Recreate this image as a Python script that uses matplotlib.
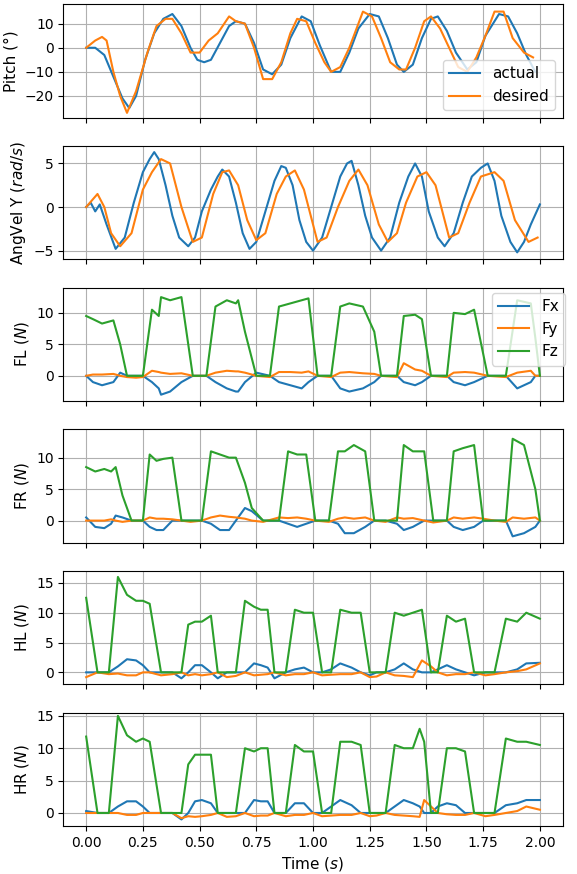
import numpy as np
import matplotlib.pyplot as plt

# pitch (deg)
pitch_act_t = [0, 0.04, 0.08, 0.12, 0.16, 0.19, 0.22, 0.26, 0.30, 0.34, 0.38, 0.42, 0.46, 0.49, 0.52, 0.55, 0.59, 0.63, 0.66, 0.70, 0.74, 0.78, 0.82, 0.86, 0.90, 0.95, 0.99, 1.03, 1.08, 1.12, 1.16, 1.20, 1.25, 1.29, 1.33, 1.37, 1.40, 1.44, 1.48, 1.52, 1.55, 1.59, 1.63, 1.68, 1.72, 1.76, 1.82, 1.86, 1.90, 1.94, 1.98]
pitch_act = [0, 0, -3, -12, -21, -25, -20, -5, 6, 12, 14, 9, 0, -5, -6, -5, 2, 9, 11, 10, 2, -9, -11, -7, 4, 13, 11, 1, -10, -10, -2, 8, 14, 13, 4, -7, -10, -7, 4, 12, 13, 7, -2, -9, -6, 5, 14, 13, 6, -3, -10]
pitch_des_t = [0, 0.04, 0.07, 0.09, 0.12, 0.15, 0.18, 0.22, 0.27, 0.31, 0.35, 0.38, 0.42, 0.46, 0.50, 0.54, 0.58, 0.63, 0.66, 0.70, 0.74, 0.78, 0.82, 0.86, 0.90, 0.93, 0.97, 1.01, 1.05, 1.08, 1.12, 1.16, 1.22, 1.26, 1.30, 1.34, 1.38, 1.41, 1.45, 1.49, 1.52, 1.56, 1.60, 1.64, 1.68, 1.72, 1.76, 1.80, 1.84, 1.88, 1.93, 1.97]
pitch_des = [0, 3, 4.5, 3, -10, -20, -27, -18, -2, 9, 12, 12, 6, -2, -2, 3, 6, 13, 11, 10, 0, -13, -13, -6, 6, 12, 11, 2, -6, -10, -8, 0, 15, 13, 4, -6, -9, -9, 0, 11, 13, 8, 0, -8, -10, -4, 5, 15, 15, 4, -2, -4]

# angular velocity (rad/s)
av_act_t = [0, 0.02, 0.04, 0.06, 0.09, 0.13, 0.17, 0.21, 0.25, 0.28, 0.30, 0.32, 0.35, 0.38, 0.41, 0.45, 0.48, 0.51, 0.55, 0.58, 0.60, 0.63, 0.66, 0.69, 0.72, 0.75, 0.79, 0.83, 0.86, 0.88, 0.91, 0.94, 0.97, 1.00, 1.04, 1.08, 1.12, 1.15, 1.17, 1.20, 1.23, 1.26, 1.30, 1.34, 1.38, 1.42, 1.45, 1.48, 1.51, 1.55, 1.58, 1.62, 1.66, 1.70, 1.74, 1.77, 1.80, 1.83, 1.87, 1.90, 1.93, 1.96, 2.0]
av_act = [0, 0.5, -0.5, 0.3, -2, -4.8, -3.5, 0.5, 4, 5.5, 6.3, 5.5, 2.5, -1, -3.5, -4.5, -3.5, -0.5, 2, 3.5, 4.3, 3.5, 0.5, -3, -4.8, -4, -0.5, 3, 4.7, 4.5, 2.5, -1.5, -4, -5, -3.5, 0, 3.5, 5.0, 5.3, 2.5, -1, -3.5, -5, -3.5, 0.5, 3.5, 5.0, 3.5, -0.5, -3.5, -4.5, -3, 0.5, 3.5, 4.5, 5.0, 3, -1, -4, -5.2, -4, -2, 0.3]
av_des_t = [0, 0.05, 0.08, 0.11, 0.15, 0.20, 0.25, 0.29, 0.33, 0.37, 0.42, 0.47, 0.51, 0.56, 0.60, 0.63, 0.67, 0.71, 0.75, 0.79, 0.84, 0.88, 0.92, 0.96, 1.02, 1.06, 1.11, 1.16, 1.20, 1.24, 1.29, 1.33, 1.37, 1.41, 1.46, 1.50, 1.54, 1.60, 1.64, 1.69, 1.74, 1.80, 1.84, 1.89, 1.95, 1.99]
av_des = [0, 1.5, 0, -3, -4.5, -3, 2, 4, 5.5, 5, 0, -4, -3.5, 1.5, 4, 4.2, 2.5, -1.5, -3.8, -3, 1.5, 3.5, 4.2, 2, -4, -3.5, 0, 3, 4.3, 2.5, -2, -4, -3, 0.5, 3.5, 4, 2.5, -3.5, -3, 0.5, 3.5, 4, 3, -1.5, -4, -3.5]

# foot forces: (t, Fx, Fy, Fz)
fl_t = [0, 0.03, 0.07, 0.12, 0.15, 0.18, 0.22, 0.25, 0.29, 0.32, 0.33, 0.37, 0.42, 0.47, 0.53, 0.57, 0.62, 0.66, 0.67, 0.70, 0.75, 0.81, 0.85, 0.90, 0.95, 0.98, 1.02, 1.08, 1.12, 1.16, 1.22, 1.27, 1.30, 1.37, 1.40, 1.45, 1.48, 1.52, 1.59, 1.62, 1.67, 1.71, 1.77, 1.85, 1.90, 1.96, 1.98, 2.0]
fl_fx = [0, -1, -1.5, -1, 0.5, 0, 0, 0, -1, -2, -3, -2.5, -1, 0, 0, -1, -2, -2.5, -2.5, -1, 0.5, 0, -1, -1.5, -2, -1, 0, 0, -2, -2.5, -2, -1, 0, 0, -1, -1.5, -1, 0, 0, -1, -1.5, -1, 0, 0, -2, -1, 0, 0]
fl_fy = [0, 0.2, 0.2, 0.3, 0, -0.2, -0.3, -0.2, 0.8, 0.6, 0.5, 0.3, 0.4, 0, 0, 0.5, 0.8, 0.7, 0.7, 0.5, 0, -0.2, 0.6, 0.6, 0.5, 0.7, 0, -0.2, 0.5, 0.6, 0.4, 0.3, 0, -0.2, 2, 1, 0.8, 0, -0.2, 0.5, 0.6, 0.5, 0, -0.2, 0.5, 0.8, 0, 0]
fl_fz = [9.5, 9, 8.3, 8.8, 5, 0, 0, 0, 10.5, 9.5, 12.5, 12, 12.5, 0, 0, 11, 12, 11.5, 12, 7, 0, 0, 11, 11.5, 12, 12.3, 0, 0, 11, 11.5, 11, 7, 0, 0, 9.5, 9.7, 9, 0, 0, 10, 9.8, 10.5, 0, 0, 12, 11.5, 6, 0]

fr_t = [0, 0.04, 0.08, 0.11, 0.13, 0.16, 0.20, 0.25, 0.28, 0.31, 0.34, 0.38, 0.42, 0.46, 0.51, 0.55, 0.59, 0.63, 0.66, 0.70, 0.73, 0.78, 0.85, 0.89, 0.93, 0.97, 1.01, 1.07, 1.11, 1.14, 1.18, 1.23, 1.27, 1.32, 1.37, 1.40, 1.44, 1.49, 1.53, 1.59, 1.62, 1.66, 1.71, 1.75, 1.80, 1.85, 1.88, 1.93, 1.98, 2.0]
fr_fx = [0.5, -1, -1.2, -0.5, 0.8, 0.5, 0, 0, -1, -1.5, -1.5, 0, 0, 0, 0, -0.5, -1.5, -1.5, 0, 2, 1.5, 0, 0, -0.5, -1, -0.5, 0, 0, -0.5, -2, -2, -1, 0, 0, -0.5, -1.5, -1, 0, 0, 0, -1, -1.5, -1, 0, 0, 0, -2.5, -2, -1, 0]
fr_fy = [0, 0, 0, 0.2, 0, -0.2, 0, 0, 0.5, 0.3, 0.3, 0.2, 0, -0.2, 0, 0.5, 0.8, 0.6, 0.5, 0.3, 0, -0.2, 0.5, 0.4, 0.5, 0.3, 0, -0.2, 0.3, 0.5, 0.3, 0.5, 0, -0.2, 0.5, 0.3, 0.4, 0, -0.3, 0, 0.5, 0.3, 0.5, 0.3, 0, -0.2, 0.5, 0.3, 0.5, 0]
fr_fz = [8.5, 7.8, 8.2, 7.8, 8.5, 4, 0, 0, 10.5, 9.5, 9.8, 10, 0, 0, 0, 11, 10.5, 10, 10, 6, 2, 0, 0, 11, 10.5, 10.5, 0, 0, 11, 11, 12, 11, 0, 0, 0, 12, 11, 11, 0, 0, 11, 11.5, 12, 0, 0, 0, 13, 12, 5, 0]

hl_t = [0, 0.05, 0.10, 0.14, 0.18, 0.22, 0.25, 0.28, 0.33, 0.38, 0.42, 0.45, 0.48, 0.51, 0.55, 0.58, 0.62, 0.66, 0.70, 0.74, 0.77, 0.80, 0.83, 0.88, 0.92, 0.96, 1.00, 1.04, 1.08, 1.12, 1.17, 1.21, 1.25, 1.28, 1.32, 1.36, 1.40, 1.44, 1.48, 1.52, 1.55, 1.59, 1.63, 1.67, 1.71, 1.76, 1.80, 1.85, 1.90, 1.94, 2.0]
hl_fx = [0, 0, 0, 1, 2.2, 2, 1.2, 0, 0, 0, -1, 0, 1.2, 1.2, 0, -1, 0, 0, 0, 1.5, 1.2, 0.8, -1, 0, 0.5, 0.8, 0, 0, 0.5, 1.5, 0.8, 0, -0.5, 0, 0, 0.5, 1.5, 0.5, 0, 0, 0.5, 1.2, 0.5, 0, -0.5, 0, 0, 0, 0.5, 1.5, 1.6]
hl_fy = [-0.8, 0, -0.3, -0.2, -0.5, -0.5, 0, 0, -0.5, -0.3, 0, -0.5, -0.3, -0.5, -0.3, 0, -0.8, -0.6, 0, -0.5, -0.4, -0.3, 0, -0.5, -0.3, -0.3, 0, -0.5, -0.4, -0.3, -0.3, 0, -0.8, -0.7, 0, -0.5, -0.6, -0.8, 2, 1, 0, -0.5, -0.3, -0.3, 0, -0.5, -0.3, 0, 0.2, 0.5, 1.5]
hl_fz = [12.5, 0, 0, 16, 13, 12, 12, 11.5, 0, 0, 0, 8, 8.5, 8.5, 9.5, 0, 0, 0, 12, 11, 10.5, 10.5, 0, 0, 10.5, 10, 10, 0, 0, 10.5, 10, 10, 0, 0, 0, 10, 9.5, 10, 10.5, 0, 0, 9.5, 8.5, 9, 0, 0, 0, 9, 8.5, 10, 9]

hr_t = [0, 0.05, 0.10, 0.14, 0.18, 0.22, 0.25, 0.28, 0.33, 0.38, 0.42, 0.45, 0.48, 0.51, 0.55, 0.58, 0.62, 0.66, 0.70, 0.74, 0.77, 0.80, 0.83, 0.88, 0.92, 0.96, 1.00, 1.04, 1.08, 1.12, 1.17, 1.21, 1.25, 1.28, 1.32, 1.36, 1.40, 1.44, 1.47, 1.49, 1.52, 1.55, 1.59, 1.63, 1.67, 1.71, 1.76, 1.80, 1.85, 1.90, 1.94, 2.0]
hr_fx = [0.3, 0, 0, 1, 1.8, 1.8, 1, 0, 0, 0, -1, 0, 1.8, 2, 1.5, 0, 0, 0, 0, 2, 1.8, 1.8, 0, 0, 1.5, 1.5, 0, 0, 1, 2, 1.2, 0, 0, 0, 0, 1, 2, 1.5, 1, 0, 0, 1, 1.5, 1.2, 0, 0, 0, 0, 1.2, 1.5, 2, 2]
hr_fy = [0, 0, 0, 0, -0.3, -0.3, 0, 0, 0, 0, -0.8, -0.5, -0.6, -0.5, -0.3, 0, -0.6, -0.5, 0, -0.5, -0.4, -0.4, 0, -0.5, -0.3, -0.3, 0, -0.5, -0.4, -0.3, -0.3, 0, -0.5, -0.4, 0, -0.3, -0.4, -0.5, -0.6, 2, 1, 0, -0.2, -0.3, -0.3, 0, -0.5, -0.3, 0, 0.3, 1, 0.5]
hr_fz = [11.8, 0, 0, 15, 12, 11, 11.5, 11, 0, 0, 0, 7.5, 9, 9, 9, 0, 0, 0, 10, 9.5, 10, 10, 0, 0, 10.5, 9.5, 9.5, 0, 0, 11, 11, 10.5, 0, 0, 0, 10.5, 10, 10, 13, 11, 0, 0, 10, 10, 9.5, 0, 0, 0, 11.5, 11, 11, 10.5]

fig, axes = plt.subplots(6, 1, figsize=(5.77, 8.74), dpi=100, sharex=True)

ax = axes[0]
ax.plot(pitch_act_t, pitch_act, label="actual")
ax.plot(pitch_des_t, pitch_des, label="desired")
ax.set_ylabel("Pitch (°)", fontsize=11)
ax.set_ylim(-29, 18)
ax.set_yticks([-20, -10, 0, 10])
ax.legend(loc="lower right", fontsize=11)

ax = axes[1]
ax.plot(av_act_t, av_act)
ax.plot(av_des_t, av_des)
ax.set_ylabel("AngVel Y ($rad/s$)", fontsize=11)
ax.set_ylim(-6, 7)

forces = [
    ("FL", fl_t, fl_fx, fl_fy, fl_fz),
    ("FR", fr_t, fr_fx, fr_fy, fr_fz),
    ("HL", hl_t, hl_fx, hl_fy, hl_fz),
    ("HR", hr_t, hr_fx, hr_fy, hr_fz),
]
for ax, (name, t, fx, fy, fz) in zip(axes[2:], forces):
    ax.plot(t, fx, label="Fx")
    ax.plot(t, fy, label="Fy")
    ax.plot(t, fz, label="Fz")
    ax.set_ylabel(f"{name} ($N$)", fontsize=11)
    if name == "FL":
        ax.legend(loc="upper right", bbox_to_anchor=(1.02, 1.02), fontsize=11)

axes[2].set_ylim(-4, 14)
axes[3].set_ylim(-3.5, 14.5)
axes[4].set_ylim(-2, 17)
axes[5].set_ylim(-2, 15.5)

for ax in axes:
    ax.grid(True)
    ax.set_xlim(-0.1, 2.1)
axes[-1].set_xlabel("Time ($s$)", fontsize=11)
axes[-1].set_xticks(np.arange(0, 2.01, 0.25))

plt.subplots_adjust(left=0.11, right=0.975, top=0.995, bottom=0.055, hspace=0.25)
plt.savefig("out.png", dpi=100)
